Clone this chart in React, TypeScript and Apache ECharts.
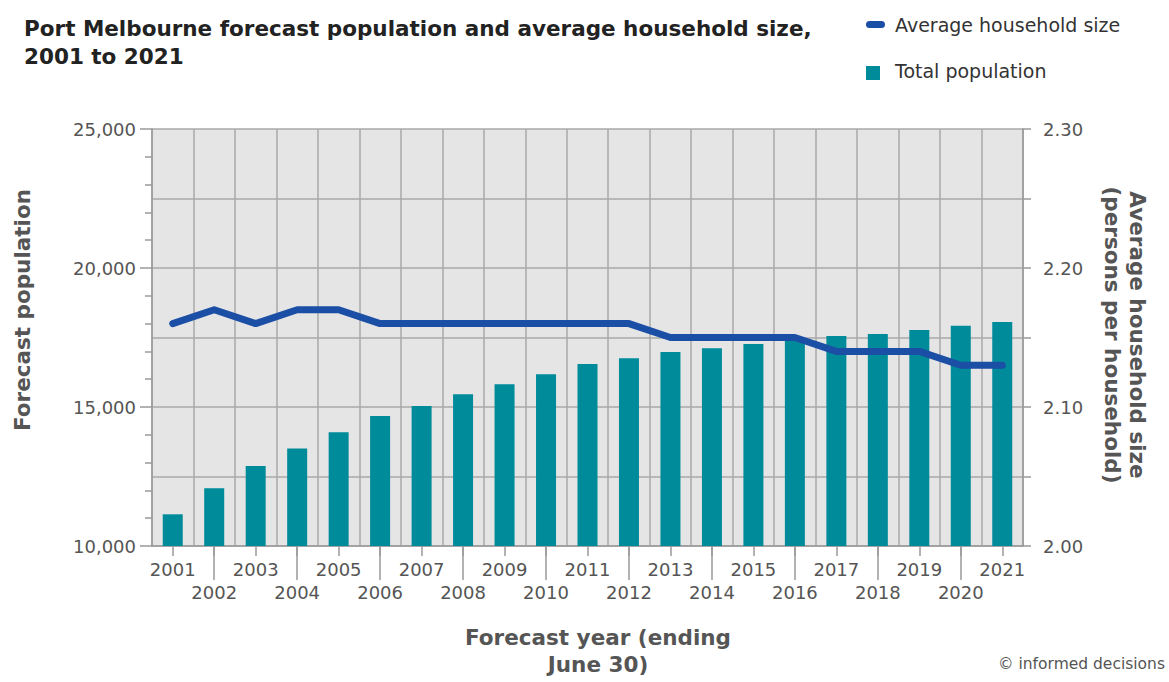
import React, { useEffect, useRef } from "react";
import * as echarts from "echarts";

const years = ["2001","2002","2003","2004","2005","2006","2007","2008","2009","2010","2011","2012","2013","2014","2015","2016","2017","2018","2019","2020","2021"];
const totalPopulation = [11140, 12080, 12880, 13510, 14090, 14680, 15040, 15460, 15820, 16180, 16550, 16750, 16980, 17110, 17270, 17420, 17550, 17630, 17770, 17920, 18060];
const householdSize = [2.16, 2.17, 2.16, 2.17, 2.17, 2.16, 2.16, 2.16, 2.16, 2.16, 2.16, 2.16, 2.15, 2.15, 2.15, 2.15, 2.14, 2.14, 2.14, 2.13, 2.13];
const leftTicks = { min: 10000, max: 25000, interval: 5000 };
const rightTicks = { min: 2.0, max: 2.3, interval: 0.05 };

const FONT = "DejaVu Sans";
const BAR_COLOR = "#008b9a";
const LINE_COLOR = "#1b4ea5";
const AXIS_COLOR = "#9a9a9a";
const LABEL_COLOR = "#555555";

export default function App() {
  const ref = useRef<HTMLDivElement>(null);
  useEffect(() => {
    if (!ref.current) return;
    const chart = echarts.init(ref.current, undefined, { renderer: "svg" });
    chart.setOption({
      animation: false,
      backgroundColor: "#ffffff",
      textStyle: { fontFamily: FONT },
      title: {
        text: "Port Melbourne forecast population and average household size,\n2001 to 2021",
        left: 19,
        top: 9,
        textStyle: { fontFamily: FONT, fontSize: 21.5, fontWeight: "bold", color: "#222222", lineHeight: 28 },
      },
      grid: {
        left: 152,
        right: 146,
        top: 129,
        bottom: 136,
        show: true,
        backgroundColor: "#e5e5e5",
        borderWidth: 0,
      },
      xAxis: [
        {
          type: "category",
          data: years,
          position: "bottom",
          axisLine: { show: true, lineStyle: { color: AXIS_COLOR, width: 1.5 } },
          axisTick: { show: true, alignWithLabel: true, length: 10, lineStyle: { color: AXIS_COLOR, width: 1.5 } },
          splitLine: { show: true, lineStyle: { color: "#a8a8a8", width: 1.5 } },
          axisLabel: {
            interval: 0,
            margin: 12,
            color: LABEL_COLOR,
            fontFamily: FONT,
            fontSize: 18,
            lineHeight: 23,
            formatter: (v: string, i: number) => (i % 2 === 0 ? v : "\n" + v),
          },
        },
        {
          type: "category",
          data: years,
          position: "bottom",
          axisLine: { show: false },
          axisTick: {
            show: true,
            alignWithLabel: true,
            length: 34,
            interval: (i: number) => i % 2 === 1,
            lineStyle: { color: AXIS_COLOR, width: 1.5 },
          },
          splitLine: { show: false },
          axisLabel: { show: false },
        },
      ],
      yAxis: [
        {
          type: "value",
          position: "left",
          min: leftTicks.min,
          max: leftTicks.max,
          interval: leftTicks.interval,
          axisLine: { show: true, lineStyle: { color: AXIS_COLOR, width: 1.5 } },
          axisTick: { show: true, length: 12, lineStyle: { color: AXIS_COLOR, width: 1.5 } },
          minorTick: { show: true, splitNumber: 5, length: 7, lineStyle: { color: AXIS_COLOR, width: 1.5 } },
          splitLine: { show: false },
          axisLabel: {
            margin: 16,
            color: LABEL_COLOR,
            fontFamily: FONT,
            fontSize: 18,
            formatter: (v: number) => v.toLocaleString("en-US"),
          },
        },
        {
          type: "value",
          position: "right",
          min: rightTicks.min,
          max: rightTicks.max,
          interval: rightTicks.interval,
          axisLine: { show: true, lineStyle: { color: AXIS_COLOR, width: 1.5 } },
          axisTick: { show: true, length: 8, lineStyle: { color: AXIS_COLOR, width: 1.5 } },
          splitLine: { show: true, lineStyle: { color: "#a8a8a8", width: 1.5 } },
          axisLabel: {
            margin: 20,
            color: LABEL_COLOR,
            fontFamily: FONT,
            fontSize: 18,
            formatter: (v: number) => (Math.round(v * 100) % 10 === 0 ? v.toFixed(2) : ""),
          },
        },
      ],
      series: [
        {
          name: "Total population",
          type: "bar",
          xAxisIndex: 0,
          yAxisIndex: 0,
          data: totalPopulation,
          barWidth: 20,
          itemStyle: { color: BAR_COLOR },
          z: 2,
        },
        {
          name: "Average household size",
          type: "line",
          xAxisIndex: 0,
          yAxisIndex: 1,
          data: householdSize,
          symbol: "none",
          lineStyle: { color: LINE_COLOR, width: 7, cap: "round", join: "round" },
          z: 3,
        },
      ],
      graphic: [
        { type: "rect", left: 866, top: 21, shape: { width: 19, height: 7, r: 3.5 }, style: { fill: LINE_COLOR } },
        { type: "text", left: 895, top: 15, style: { text: "Average household size", fontFamily: FONT, fontSize: 19, fill: "#333333" } },
        { type: "rect", left: 866, top: 66, shape: { width: 14, height: 14 }, style: { fill: BAR_COLOR } },
        { type: "text", left: 895, top: 61, style: { text: "Total population", fontFamily: FONT, fontSize: 19, fill: "#333333" } },
        {
          type: "text",
          x: 22,
          y: 310,
          rotation: Math.PI / 2,
          style: { text: "Forecast population", fontFamily: FONT, fontSize: 21.5, fontWeight: "bold", fill: LABEL_COLOR, align: "center", verticalAlign: "middle" },
        },
        {
          type: "text",
          x: 1125,
          y: 335,
          rotation: -Math.PI / 2,
          style: { text: "Average household size\n(persons per household)", fontFamily: FONT, fontSize: 21.5, fontWeight: "bold", fill: LABEL_COLOR, align: "center", verticalAlign: "middle", lineHeight: 25 },
        },
        {
          type: "text",
          x: 598,
          y: 651,
          style: { text: "Forecast year (ending\nJune 30)", fontFamily: FONT, fontSize: 21.5, fontWeight: "bold", fill: LABEL_COLOR, align: "center", verticalAlign: "middle", lineHeight: 27 },
        },
        {
          type: "text",
          right: 4,
          top: 656,
          style: { text: "© informed decisions", fontFamily: FONT, fontSize: 15.5, fill: "#555555" },
        },
      ],
    });
    return () => chart.dispose();
  }, []);
  return <div ref={ref} style={{ position: "fixed", left: 0, top: 0, width: 1169, height: 682 }} />;
}
